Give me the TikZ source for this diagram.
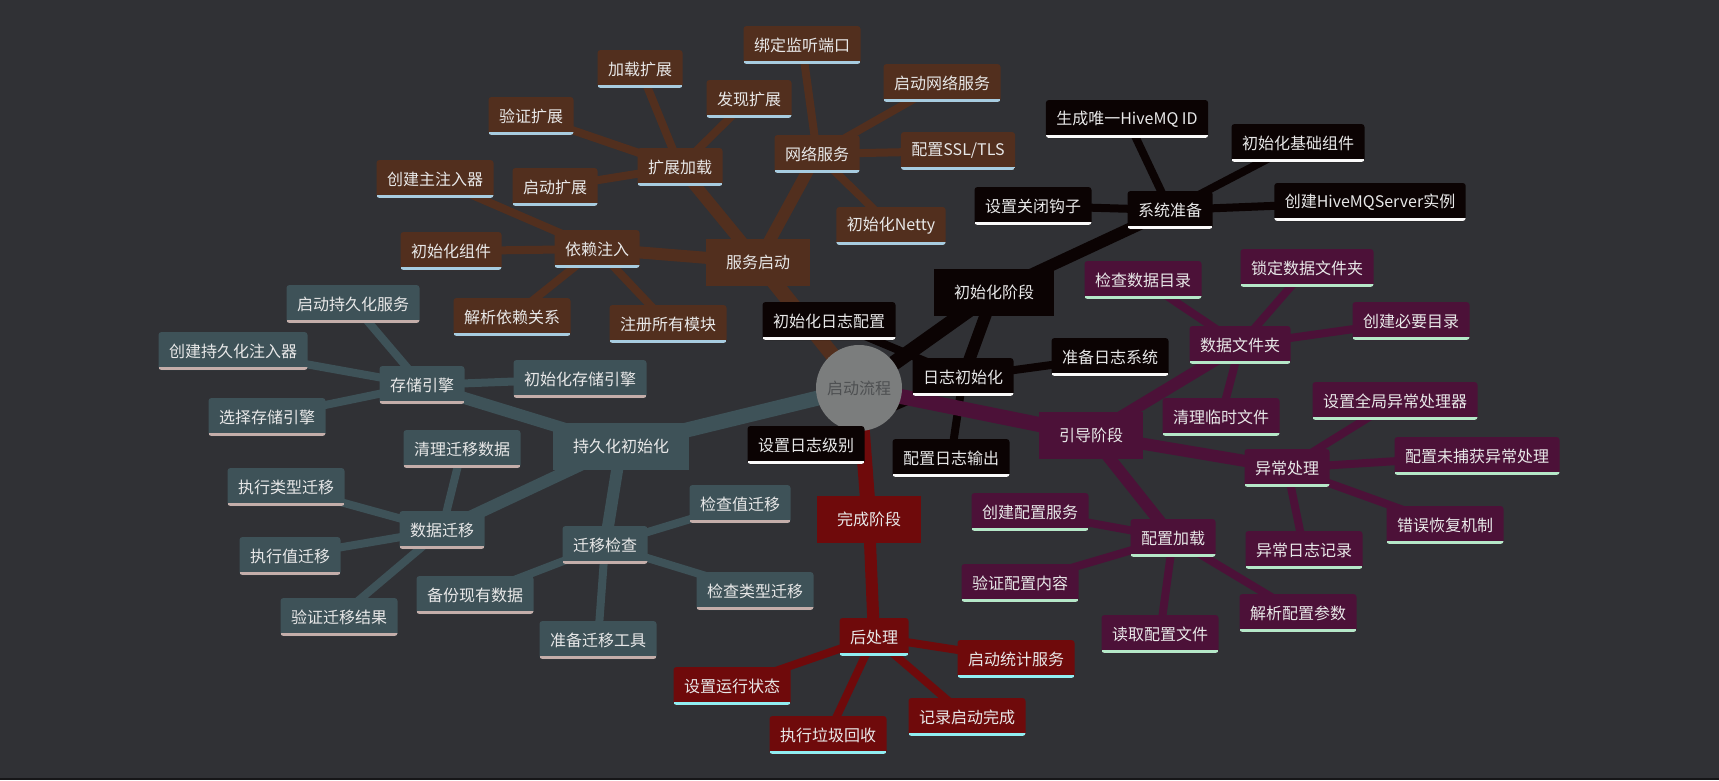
\documentclass[tikz,border=0pt]{standalone}
\usepackage{fontspec}
\setmainfont{Noto Sans CJK SC}
\usepackage{tikz}
\usetikzlibrary{backgrounds}
\definecolor{bgcol}{RGB}{48,49,53}
\definecolor{txtcol}{RGB}{232,232,232}
\definecolor{rootfill}{RGB}{123,125,125}
\definecolor{roottxt}{RGB}{78,80,82}
\definecolor{brownc}{RGB}{82,47,30}
\definecolor{brownul}{RGB}{167,204,224}
\definecolor{inkc}{RGB}{11,3,3}
\definecolor{inkul}{RGB}{250,250,250}
\definecolor{slatec}{RGB}{62,82,88}
\definecolor{slateul}{RGB}{196,174,170}
\definecolor{plumc}{RGB}{76,17,56}
\definecolor{plumul}{RGB}{181,232,200}
\definecolor{redc}{RGB}{111,10,11}
\definecolor{redul}{RGB}{144,238,242}

\begin{document}
\begin{tikzpicture}[x=1pt,y=-1pt,
  txt/.style={text=txtcol, font=\fontsize{16}{18}\selectfont, inner ysep=0pt},
  leaf/.style 2 args={txt, fill=#1, rounded corners=3pt, inner xsep=10.5pt, minimum height=38pt,
    path picture={\fill[#2, sharp corners] (path picture bounding box.south west) rectangle ([yshift=3.5pt]path picture bounding box.south east);}},
  main/.style={txt, fill=#1, inner xsep=20pt, minimum height=47pt},
  root/.style={circle, fill=rootfill, minimum size=86pt, inner sep=0pt, text=roottxt, font=\fontsize{16}{18}\selectfont},
  bleaf/.style={leaf={brownc}{brownul}},
  kleaf/.style={leaf={inkc}{inkul}},
  sleaf/.style={leaf={slatec}{slateul}},
  pleaf/.style={leaf={plumc}{plumul}},
  rleaf/.style={leaf={redc}{redul}},
  w1/.style={line width=15pt},
  w2/.style={line width=12pt},
  w3/.style={line width=8pt}]
\useasboundingbox (0,0) rectangle (1719,780);

\node[root] (root) at (859,388) {启动流程};

\node[main=inkc] (init) at (994,292) {初始化阶段};
\node[kleaf] (sysprep) at (1170,210) {系统准备};
\node[kleaf] (hiveid) at (1127,119) {生成唯一HiveMQ ID};
\node[kleaf] (basecomp) at (1298,143) {初始化基础组件};
\node[kleaf] (serverinst) at (1370,202) {创建HiveMQServer实例};
\node[kleaf] (hook) at (1033,206) {设置关闭钩子};
\node[kleaf] (loginit) at (963,377) {日志初始化};
\node[kleaf] (logsys) at (1110,357) {准备日志系统};
\node[kleaf] (logconf) at (829,321) {初始化日志配置};
\node[kleaf] (loglevel) at (806,445) {设置日志级别};
\node[kleaf] (logout) at (951,458) {配置日志输出};

\node[main=brownc] (service) at (758,262) {服务启动};
\node[bleaf] (extload) at (680,167) {扩展加载};
\node[bleaf] (loadext) at (640,69) {加载扩展};
\node[bleaf] (findext) at (749,99) {发现扩展};
\node[bleaf] (verext) at (531,116) {验证扩展};
\node[bleaf] (startext) at (555,187) {启动扩展};
\node[bleaf] (netsvc) at (817,154) {网络服务};
\node[bleaf] (bindport) at (802,45) {绑定监听端口};
\node[bleaf] (startnet) at (942,83) {启动网络服务};
\node[bleaf] (ssl) at (958,151) {配置SSL/TLS};
\node[bleaf] (netty) at (891,226) {初始化Netty};
\node[bleaf] (di) at (597,249) {依赖注入};
\node[bleaf] (maininj) at (435,179) {创建主注入器};
\node[bleaf] (initcomp) at (451,251) {初始化组件};
\node[bleaf] (resolve) at (512,317) {解析依赖关系};
\node[bleaf] (regmod) at (668,324) {注册所有模块};

\node[main=slatec] (persist) at (621,446) {持久化初始化};
\node[sleaf] (storage) at (422,385) {存储引擎};
\node[sleaf] (startpers) at (353,304) {启动持久化服务};
\node[sleaf] (persinj) at (233,351) {创建持久化注入器};
\node[sleaf] (selstore) at (267,417) {选择存储引擎};
\node[sleaf] (initstore) at (580,379) {初始化存储引擎};
\node[sleaf] (migrate) at (442,530) {数据迁移};
\node[sleaf] (cleanmig) at (462,449) {清理迁移数据};
\node[sleaf] (typemig) at (286,487) {执行类型迁移};
\node[sleaf] (valmig) at (290,556) {执行值迁移};
\node[sleaf] (vermig) at (339,617) {验证迁移结果};
\node[sleaf] (migcheck) at (605,545) {迁移检查};
\node[sleaf] (checkval) at (740,504) {检查值迁移};
\node[sleaf] (checktype) at (755,591) {检查类型迁移};
\node[sleaf] (preptool) at (598,640) {准备迁移工具};
\node[sleaf] (backup) at (475,595) {备份现有数据};

\node[main=plumc] (boot) at (1091,435) {引导阶段};
\node[pleaf] (datadir) at (1240,345) {数据文件夹};
\node[pleaf] (checkdir) at (1143,280) {检查数据目录};
\node[pleaf] (lockdir) at (1307,268) {锁定数据文件夹};
\node[pleaf] (mkdir) at (1411,321) {创建必要目录};
\node[pleaf] (cleantmp) at (1221,417) {清理临时文件};
\node[pleaf] (exc) at (1287,468) {异常处理};
\node[pleaf] (globexc) at (1395,401) {设置全局异常处理器};
\node[pleaf] (uncaught) at (1477,456) {配置未捕获异常处理};
\node[pleaf] (recover) at (1445,525) {错误恢复机制};
\node[pleaf] (exclog) at (1304,550) {异常日志记录};
\node[pleaf] (cfgload) at (1173,538) {配置加载};
\node[pleaf] (cfgsvc) at (1030,512) {创建配置服务};
\node[pleaf] (cfgverify) at (1020,583) {验证配置内容};
\node[pleaf] (cfgread) at (1160,634) {读取配置文件};
\node[pleaf] (cfgparse) at (1298,613) {解析配置参数};

\node[main=redc] (finish) at (869,519) {完成阶段};
\node[rleaf] (post) at (874,637) {后处理};
\node[rleaf] (stats) at (1016,659) {启动统计服务};
\node[rleaf] (runstate) at (732,686) {设置运行状态};
\node[rleaf] (logdone) at (967,717) {记录启动完成};
\node[rleaf] (gc) at (828,735) {执行垃圾回收};

\begin{scope}[on background layer]
\fill[bgcol] (0,0) rectangle (1719,780);
\fill[black!55!bgcol] (0,778) rectangle (1719,780);

\draw[inkc,w1] (root.center) -- (init.center);
\draw[inkc,w2] \foreach \c in {sysprep,loginit} {(init.center) -- (\c.center)};
\draw[inkc,w3] \foreach \c in {hiveid,basecomp,serverinst,hook} {(sysprep.center) -- (\c.center)};
\draw[inkc,w3] \foreach \c in {logsys,logconf,loglevel,logout} {(loginit.center) -- (\c.center)};

\draw[brownc,w1] (root.center) -- (service.center);
\draw[brownc,w2] \foreach \c in {extload,netsvc,di} {(service.center) -- (\c.center)};
\draw[brownc,w3] \foreach \c in {loadext,findext,verext,startext} {(extload.center) -- (\c.center)};
\draw[brownc,w3] \foreach \c in {bindport,startnet,ssl,netty} {(netsvc.center) -- (\c.center)};
\draw[brownc,w3] \foreach \c in {maininj,initcomp,resolve,regmod} {(di.center) -- (\c.center)};

\draw[slatec,w1] (root.center) -- (persist.center);
\draw[slatec,w2] \foreach \c in {storage,migrate,migcheck} {(persist.center) -- (\c.center)};
\draw[slatec,w3] \foreach \c in {startpers,persinj,selstore,initstore} {(storage.center) -- (\c.center)};
\draw[slatec,w3] \foreach \c in {cleanmig,typemig,valmig,vermig} {(migrate.center) -- (\c.center)};
\draw[slatec,w3] \foreach \c in {checkval,checktype,preptool,backup} {(migcheck.center) -- (\c.center)};

\draw[plumc,w1] (root.center) -- (boot.center);
\draw[plumc,w2] \foreach \c in {datadir,exc,cfgload} {(boot.center) -- (\c.center)};
\draw[plumc,w3] \foreach \c in {checkdir,lockdir,mkdir,cleantmp} {(datadir.center) -- (\c.center)};
\draw[plumc,w3] \foreach \c in {globexc,uncaught,recover,exclog} {(exc.center) -- (\c.center)};
\draw[plumc,w3] \foreach \c in {cfgsvc,cfgverify,cfgread,cfgparse} {(cfgload.center) -- (\c.center)};

\draw[redc,w1] (root.center) -- (finish.center);
\draw[redc,w2] (finish.center) -- (post.center);
\draw[redc,w3] \foreach \c in {stats,runstate,logdone,gc} {(post.center) -- (\c.center)};
\end{scope}
\end{tikzpicture}
\end{document}
